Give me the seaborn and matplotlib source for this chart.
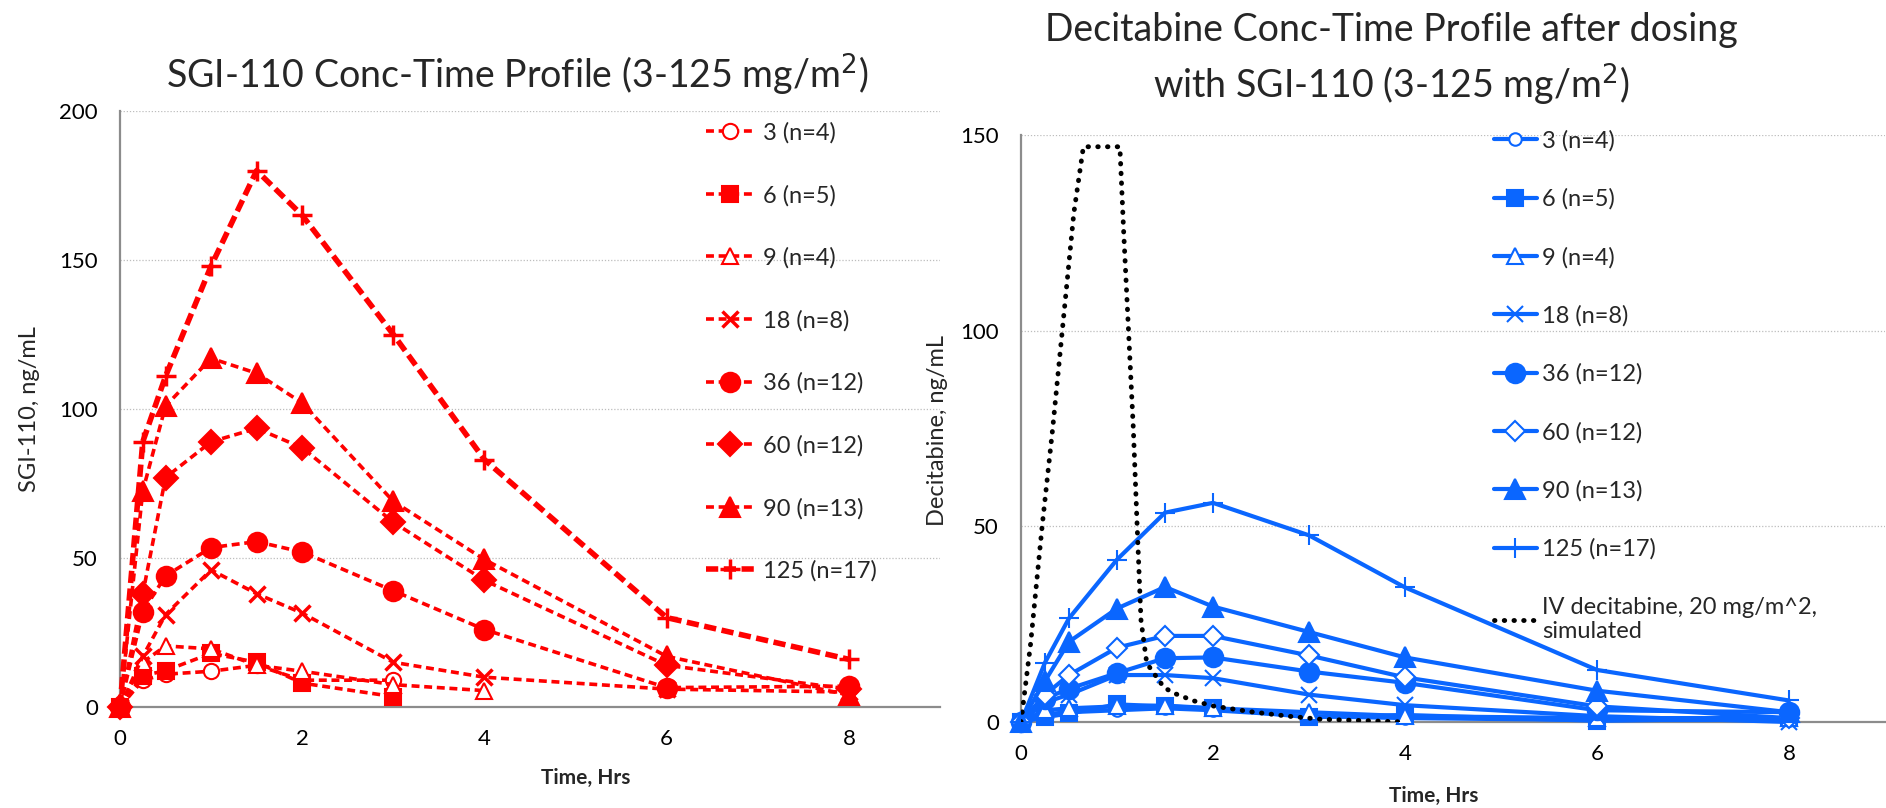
import numpy as np
import pandas as pd
import matplotlib
matplotlib.use('Agg')
import matplotlib.pyplot as plt
import seaborn as sns

sns.set_theme(style='white')
plt.rcParams['font.family'] = ['Lato', 'DejaVu Sans']

# sampling times, hrs
time_h = [0, 0.25, 0.5, 1, 1.5, 2, 3, 4, 6, 8]

dose_labels = ['3 (n=4)', '6 (n=5)', '9 (n=4)', '18 (n=8)',
               '36 (n=12)', '60 (n=12)', '90 (n=13)', '125 (n=17)']

# SGI-110 plasma conc, ng/mL (nan = not sampled)
nan = np.nan
sgi_3 = [0, 9, 11, 12, 14, 9, 9, nan, nan, nan]
sgi_6 = [0, 10.5, 12.2, 18, 15, 8, 3.5, nan, nan, nan]
sgi_9 = [0, 15, 20.5, 19.5, 14, 12, 7.5, 5.5, nan, nan]
sgi_18 = [0, 17, 31, 46, 38, 31.5, 15, 10, 6, 5]
sgi_36 = [0, 32, 44, 53.5, 55.5, 52, 39, 26, 6.5, 7]
sgi_60 = [0, 38, 77, 89, 93.5, 87, 62, 42.5, 14, 6]
sgi_90 = [0, 72.5, 101, 117, 112, 102, 69, 49.5, 17, 4]
sgi_125 = [0, 89, 111, 148, 180, 165, 125, 83, 30, 16]

# decitabine plasma conc after SGI-110, ng/mL
dac_3 = [0, 2, 2.5, 3, 3.5, 3, 1.5, 1, 0.5, 0.5]
dac_6 = [0, 1.2, 2.2, 4.5, 4, 3.5, 1.2, 1.8, 0.3, 1]
dac_9 = [0, 3, 3.5, 4, 4.2, 3.5, 2.5, 1.5, 1, 1]
dac_18 = [0, 5, 7, 12, 12, 11.2, 7, 4.3, 1.5, 0]
dac_36 = [0, 6, 8.5, 12.5, 16.3, 16.5, 12.9, 10, 3, 2.5]
dac_60 = [0, 7, 12, 19, 22, 22, 17, 11.4, 4, 1]
dac_90 = [0, 10.5, 20.5, 29, 34.5, 29.5, 23, 16.5, 8, 2.5]
dac_125 = [0, 15.2, 26.5, 41.5, 53.5, 56, 47.7, 34.4, 13.3, 5.5]

# IV decitabine 20 mg/m^2, simulated
iv_time = [0, 0.1, 0.22, 0.33, 0.43, 0.55, 0.65, 1.03, 1.07, 1.12, 1.17,
           1.21, 1.25, 1.31, 1.49, 1.6, 1.8, 2.0, 2.4, 2.78, 3.12, 3.5, 4.0]
iv_conc = [0, 20, 50, 75, 100, 130, 147, 147, 125, 100, 75,
           50, 26, 15, 8.8, 7.3, 5.4, 4.1, 2.6, 1.5, 0.7, 0.4, 0]

red = '#FF0000'
blue = '#0A66FF'
grey = '#8C8C8C'
W, H = 1886, 808

# marker: (symbol, filled)
left_marks = [('o', False), ('s', True), ('^', False), ('x', True),
              ('o', True), ('D', True), ('^', True), ('+', True)]
right_marks = [('o', False), ('s', True), ('^', False), ('x', True),
               ('o', True), ('D', False), ('^', True), ('+', True)]
left_ms = [11, 12, 12, 11, 14, 12, 15, 15]
right_ms = [9, 12, 11, 12, 14, 10, 14, 15]

fig = plt.figure(figsize=(W / 100, H / 100), dpi=100)
ax1 = fig.add_axes([120 / W, 1 - 707 / H, 820 / W, (707 - 111) / H])
ax2 = fig.add_axes([1021 / W, 1 - 722 / H, 864 / W, (722 - 135) / H])

sgi = [sgi_3, sgi_6, sgi_9, sgi_18, sgi_36, sgi_60, sgi_90, sgi_125]
dac = [dac_3, dac_6, dac_9, dac_18, dac_36, dac_60, dac_90, dac_125]

for i, lab in enumerate(dose_labels):
    df = pd.DataFrame({'t': time_h, 'c': sgi[i]}).dropna()
    m, filled = left_marks[i]
    lw = 4 if i == 7 else 2.6
    sns.lineplot(data=df, x='t', y='c', ax=ax1, color=red, lw=lw,
                 linestyle=(0, (2.2, 1.3)) if i < 7 else (0, (2.2, 1.0)),
                 marker=m, ms=left_ms[i],
                 mfc=red if filled else 'white', mec=red,
                 mew=2.5 if m in 'x+' else 1.5,
                 label=lab, clip_on=False, zorder=3 + i)

for i, lab in enumerate(dose_labels):
    df = pd.DataFrame({'t': time_h, 'c': dac[i]})
    m, filled = right_marks[i]
    sns.lineplot(data=df, x='t', y='c', ax=ax2, color=blue, lw=3,
                 marker=m, ms=right_ms[i],
                 mfc=blue if filled else 'white', mec=blue,
                 mew=1.5, label=lab, clip_on=False, zorder=3 + i)

iv = pd.DataFrame({'t': iv_time, 'c': iv_conc})
sns.lineplot(data=iv, x='t', y='c', ax=ax2, color='black', lw=3.5,
             linestyle=(0, (0.1, 1.9)), dash_capstyle='round',
             label='IV decitabine, 20 mg/m^2,\nsimulated', zorder=12)

for ax, top in [(ax1, 200), (ax2, 150)]:
    ax.set_xlim(0, 9)
    ax.set_ylim(0, top)
    ax.set_xticks([0, 2, 4, 6, 8])
    ax.set_yticks(np.arange(0, top + 1, 50))
    ax.set_xlabel('')
    ax.set_ylabel('')
    for s in ['top', 'right']:
        ax.spines[s].set_visible(False)
    for s in ['left', 'bottom']:
        ax.spines[s].set_color(grey)
        ax.spines[s].set_linewidth(1.6)
    ax.tick_params(axis='both', labelsize=16, colors='black', length=7,
                   width=1.4, direction='out', pad=9)
    ax.tick_params(axis='both', color=grey)
    for yv in np.arange(50, top + 1, 50):
        ax.axhline(yv, color='#BDBDBD', lw=0.9, ls=(0, (1, 1.5)), zorder=0)
    ax.patch.set_alpha(0)

ax1.legend(loc='upper left', bbox_to_anchor=(706 / W, 1 - 122 / H),
           bbox_transform=fig.transFigure, frameon=False, fontsize=17,
           handlelength=2.05, handletextpad=0.35, labelspacing=1.74,
           borderpad=0, borderaxespad=0)
ax2.legend(loc='upper left', bbox_to_anchor=(1494 / W, 1 - 130 / H),
           bbox_transform=fig.transFigure, frameon=False, fontsize=17,
           handlelength=1.8, handletextpad=0.25, labelspacing=1.56,
           borderpad=0, borderaxespad=0)

fig.text(517 / W, 1 - 75 / H, 'SGI-110 Conc-Time Profile (3-125 mg/m$^2$)',
         ha='center', va='center', fontsize=27)
fig.text(1391 / W, 1 - 60 / H,
         'Decitabine Conc-Time Profile after dosing\nwith SGI-110 (3-125 mg/m$^2$)',
         ha='center', va='center', fontsize=27, linespacing=1.4)
fig.text(586 / W, 1 - 778 / H, 'Time, Hrs', ha='center', va='center',
         fontsize=15, fontweight='bold')
fig.text(1434 / W, 1 - 796 / H, 'Time, Hrs', ha='center', va='center',
         fontsize=15, fontweight='bold')
fig.text(30 / W, 1 - 409 / H, 'SGI-110, ng/mL', ha='center', va='center',
         rotation=90, fontsize=17)
fig.text(937 / W, 1 - 430 / H, 'Decitabine, ng/mL', ha='center', va='center',
         rotation=90, fontsize=17)

fig.savefig('out.png', dpi=100)
